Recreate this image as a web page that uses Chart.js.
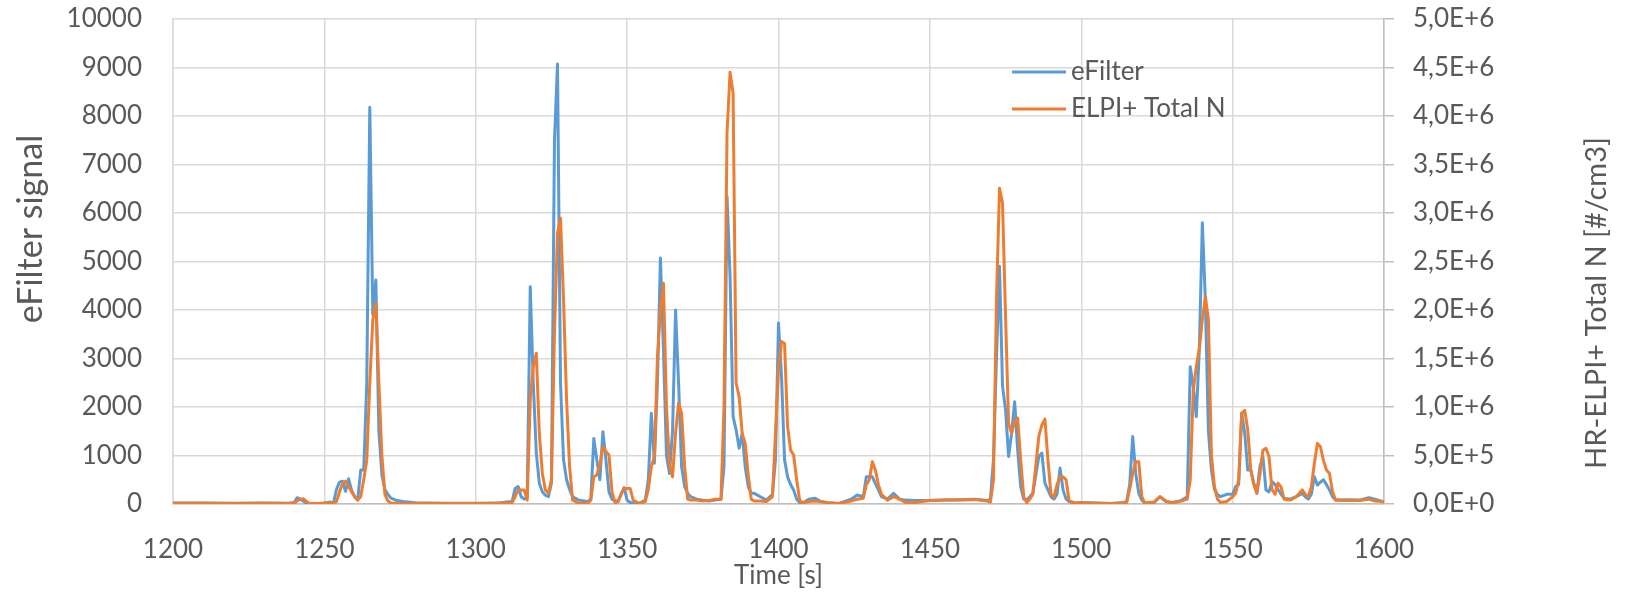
<!DOCTYPE html>
<html>
<head>
<meta charset="utf-8">
<script src="https://cdn.jsdelivr.net/npm/chart.js@4/dist/chart.umd.min.js"></script>
<style>
  html, body { margin: 0; padding: 0; background: #fff; }
  #wrap { width: 1629px; height: 595px; }
</style>
</head>
<body>
<div id="wrap"><canvas id="chart" width="1629" height="595"></canvas></div>
<script>
'use strict';

// ── data ───────────────────────────────────────────────────
const timeS = [
  1200,1210,1220,1230,1238,1240,1241,1242,1243,1244,
  1245,1248,1250,1252,1253,1254,1255,1256,1257,1258,
  1259,1260,1261,1262,1263,1264,1265,1266,1267,1268,
  1269,1270,1271,1272,1274,1276,1280,1290,1300,1305,
  1308,1310,1312,1313,1314,1315,1316,1317,1318,1319,
  1320,1321,1322,1323,1324,1325,1326,1327,1328,1329,
  1330,1331,1332,1334,1337,1338,1339,1340,1341,1342,
  1343,1344,1345,1346,1347,1348,1349,1350,1351,1352,
  1354,1356,1357,1358,1359,1360,1361,1362,1363,1364,
  1365,1366,1367,1368,1369,1370,1371,1373,1375,1377,
  1379,1381,1382,1383,1384,1385,1386,1387,1388,1389,
  1390,1391,1392,1394,1396,1398,1399,1400,1401,1402,
  1403,1404,1405,1406,1407,1408,1410,1412,1414,1416,
  1420,1424,1426,1428,1429,1430,1431,1432,1433,1434,
  1436,1438,1440,1442,1445,1450,1455,1460,1465,1469,
  1470,1471,1472,1473,1474,1475,1476,1477,1478,1479,
  1480,1481,1482,1483,1484,1485,1486,1487,1488,1489,
  1490,1491,1492,1493,1494,1495,1496,1498,1500,1505,
  1510,1514,1515,1516,1517,1518,1519,1520,1521,1524,
  1526,1528,1530,1533,1535,1536,1537,1538,1539,1540,
  1541,1542,1543,1544,1545,1546,1548,1550,1551,1552,
  1553,1554,1555,1556,1557,1558,1559,1560,1561,1562,
  1563,1564,1565,1566,1567,1569,1571,1573,1574,1575,
  1576,1577,1578,1579,1580,1581,1582,1583,1584,1588,
  1592,1595,1597,1600
];

const eFilterSignal = [
  20,20,15,20,15,30,130,100,60,20,
  10,10,20,40,20,300,450,470,260,520,
  280,150,80,700,700,2500,8180,3900,4620,1500,
  600,300,200,120,70,50,25,15,15,15,
  20,40,50,320,360,150,100,150,4480,2500,
  1050,430,250,180,150,430,7500,9070,2490,910,
  500,300,150,80,50,100,1350,910,500,1490,
  910,250,100,60,60,200,340,80,30,20,
  15,80,500,1870,840,2490,5070,3200,1000,630,
  1500,4000,2490,770,360,220,150,100,80,60,
  80,100,770,6340,4690,1800,1530,1150,1460,770,
  360,220,220,150,80,200,910,3730,2630,910,
  560,400,290,100,30,20,100,120,50,30,
  10,100,185,150,560,560,560,420,290,150,
  100,220,100,80,70,70,80,90,100,70,
  100,910,3000,4900,2430,1940,980,1460,2110,1110,
  360,100,80,150,220,600,980,1050,430,290,
  150,100,200,740,290,100,50,20,30,20,
  10,30,50,400,1390,630,220,80,20,30,
  150,50,30,70,150,2830,2420,1800,3180,5800,
  4200,1500,700,300,200,150,200,200,360,400,
  1870,1460,700,700,430,220,770,980,290,250,
  460,400,300,200,120,100,150,220,150,100,
  200,560,390,450,500,400,290,150,80,90,
  80,130,100,40
];

// #/cm3
const elpiTotalN = [
  7500,7500,6000,7500,5000,10000,30000,50000,55000,30000,
  5000,5000,7500,10000,15000,25000,125000,210000,235000,180000,
  125000,75000,40000,75000,250000,450000,1250000,1900000,2070000,1250000,
  500000,100000,30000,10000,7500,5000,5000,5000,5000,7500,
  10000,10000,15000,75000,145000,145000,145000,40000,1075000,1415000,
  1555000,730000,315000,145000,110000,250000,1760000,2790000,2945000,2105000,
  1075000,385000,40000,7500,7500,40000,280000,300000,400000,590000,
  540000,505000,125000,15000,20000,100000,160000,160000,160000,40000,
  5000,25000,150000,385000,490000,1500000,2000000,2275000,1000000,400000,
  280000,730000,1040000,935000,385000,50000,40000,40000,30000,35000,
  50000,50000,1000000,3825000,4450000,4235000,1250000,1105000,730000,625000,
  300000,50000,30000,30000,25000,75000,730000,1385000,1675000,1655000,
  800000,555000,505000,250000,40000,10000,25000,30000,25000,10000,
  5000,30000,50000,60000,200000,250000,435000,350000,200000,100000,
  40000,75000,50000,15000,15000,35000,40000,42500,45000,30000,
  20000,250000,2105000,3255000,3100000,1930000,830000,730000,850000,885000,
  455000,75000,15000,50000,100000,400000,700000,815000,875000,455000,
  100000,75000,200000,280000,280000,250000,30000,10000,10000,7500,
  5000,10000,15000,150000,315000,435000,435000,75000,10000,20000,
  75000,30000,10000,30000,50000,250000,1175000,1415000,1600000,1900000,
  2140000,1900000,500000,180000,50000,15000,25000,75000,110000,250000,
  935000,965000,765000,350000,200000,110000,300000,555000,575000,490000,
  150000,100000,215000,175000,50000,40000,75000,145000,100000,75000,
  175000,420000,625000,590000,450000,350000,315000,125000,40000,35000,
  35000,50000,30000,25000
];

const seriesLabels = ['eFilter', 'ELPI+ Total N'];
const axisTitles = { x: 'Time [s]', y: 'eFilter signal', y2: 'HR-ELPI+ Total N [#/cm3]' };
const timeRange = [1200, 1600];
const signalRange = [0, 10000];
const countRange = [0, 5000000];

// ── styling ────────────────────────────────────────────────
const BLUE = '#5B9BD5';
const ORANGE = '#ED7D31';
const TEXT = '#595959';
const GRID = '#D9D9D9';
const AXIS = '#BFBFBF';
const FONT = "Lato, 'Liberation Sans', sans-serif";

Chart.defaults.font.family = FONT;
Chart.defaults.color = TEXT;

// Excel-ish "5,0E+6"
function sciComma(v) {
  if (v === 0) return '0,0E+0';
  const exp = Math.floor(Math.log10(v) + 1e-9);
  const mant = v / Math.pow(10, exp);
  return mant.toFixed(1).replace('.', ',') + 'E+' + exp;
}

const toPoints = (xs, ys) => xs.map((x, i) => ({ x, y: ys[i] }));

// keep the plot box where Excel put it
function fixWidth(w) {
  return s => { s.width = w; s.paddingTop = 0; s.paddingBottom = 0; };
}

// titles + in-plot legend, drawn as canvas text
const decorations = {
  id: 'decorations',
  afterDraw(chart) {
    const ctx = chart.ctx;
    const area = chart.chartArea;
    ctx.save();
    ctx.fillStyle = TEXT;
    ctx.textBaseline = 'middle';

    // axis titles
    ctx.textAlign = 'center';
    ctx.font = '26px ' + FONT;
    ctx.fillText(axisTitles.x, (area.left + area.right) / 2, 576);

    ctx.save();
    ctx.translate(31, 229);
    ctx.rotate(-Math.PI / 2);
    ctx.font = '34px ' + FONT;
    ctx.fillText(axisTitles.y, 0, 0);
    ctx.restore();

    ctx.save();
    ctx.translate(1597, 303);
    ctx.rotate(-Math.PI / 2);
    ctx.font = '29px ' + FONT;
    ctx.fillText(axisTitles.y2, 0, 0);
    ctx.restore();

    // legend
    ctx.textAlign = 'left';
    ctx.font = '26px ' + FONT;
    chart.data.datasets.forEach((ds, i) => {
      const y = 72 + i * 37;
      ctx.strokeStyle = ds.borderColor;
      ctx.lineWidth = 3;
      ctx.beginPath();
      ctx.moveTo(1012, y);
      ctx.lineTo(1066, y);
      ctx.stroke();
      ctx.fillText(ds.label, 1071, y);
    });
    ctx.restore();
  }
};

new Chart(document.getElementById('chart').getContext('2d'), {
  type: 'line',
  data: {
    datasets: [
      {
        label: seriesLabels[0],
        data: toPoints(timeS, eFilterSignal),
        yAxisID: 'y',
        borderColor: BLUE,
        borderWidth: 3,
        borderJoinStyle: 'round',
        borderCapStyle: 'round',
        pointRadius: 0,
        tension: 0,
        order: 1,
      },
      {
        label: seriesLabels[1],
        data: toPoints(timeS, elpiTotalN),
        yAxisID: 'y2',
        borderColor: ORANGE,
        borderWidth: 3,
        borderJoinStyle: 'round',
        borderCapStyle: 'round',
        pointRadius: 0,
        tension: 0,
        order: 0,
      }
    ]
  },
  options: {
    responsive: false,
    animation: false,
    devicePixelRatio: 1,
    layout: { padding: { top: 19, left: 0, right: 0, bottom: 0 } },
    scales: {
      x: {
        type: 'linear',
        min: timeRange[0],
        max: timeRange[1],
        grid: { color: GRID, lineWidth: 1.5, drawTicks: false },
        border: { color: AXIS, width: 1.5 },
        ticks: { stepSize: 50, padding: 30, font: { size: 26 }, color: TEXT, maxRotation: 0, callback: v => String(v) },
        afterFit(s) { s.height = 91; }
      },
      y: {
        position: 'left',
        min: signalRange[0],
        max: signalRange[1],
        grid: { color: GRID, lineWidth: 1.5, drawTicks: false },
        border: { color: GRID, width: 1.5 },
        ticks: { stepSize: 1000, padding: 31, font: { size: 26 }, color: TEXT, callback: v => String(v) },
        afterFit: fixWidth(173)
      },
      y2: {
        position: 'right',
        min: countRange[0],
        max: countRange[1],
        grid: { drawOnChartArea: false, drawTicks: true, tickLength: 10, color: AXIS, lineWidth: 1.5 },
        border: { color: AXIS, width: 1.5 },
        ticks: { stepSize: 500000, padding: 19, font: { size: 26 }, color: TEXT, callback: v => sciComma(v) },
        afterFit: fixWidth(245)
      }
    },
    plugins: {
      legend: { display: false },
      tooltip: { enabled: false }
    }
  },
  plugins: [decorations]
});
</script>
</body>
</html>
